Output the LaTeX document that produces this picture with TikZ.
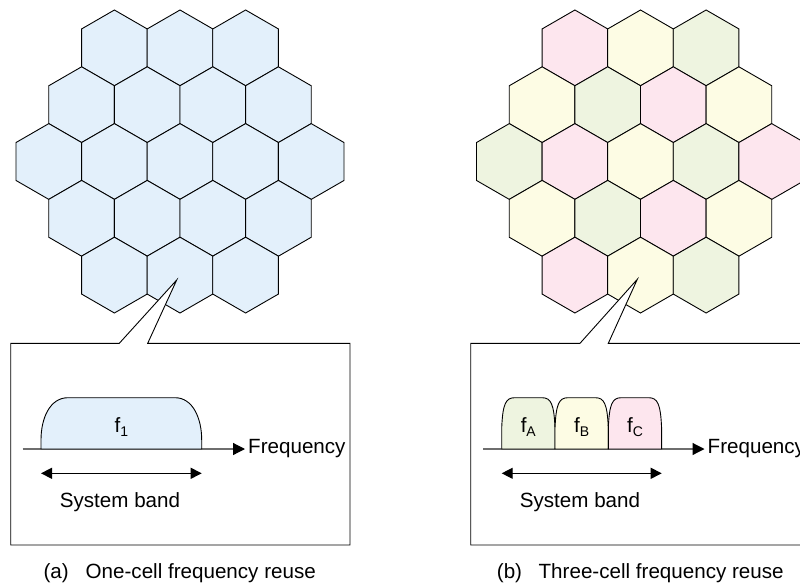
\documentclass[tikz,border=0pt]{standalone}
\usepackage{fontspec}
\setmainfont{Liberation Sans}
\usepackage{xcolor}
\definecolor{cellblue}{HTML}{E3F0FB}
\definecolor{cellpink}{HTML}{FDE6EE}
\definecolor{cellyellow}{HTML}{FDFCE4}
\definecolor{cellgreen}{HTML}{EEF4E0}
\definecolor{axisgray}{HTML}{6E6E6E}
\usepackage{tikz}
\usetikzlibrary{shapes.geometric,arrows.meta,positioning,calc}
\tikzstyle{cell} = [regular polygon, regular polygon sides=6, shape border rotate=30,
draw, minimum size=75.8pt, inner sep=0pt, outer sep=0pt, line width=0.9pt]
\tikzstyle{callout} = [draw, fill=white, line width=0.9pt]
\tikzstyle{band} = [draw, line width=0.9pt]
\tikzstyle{freqaxis} = [draw=axisgray, line width=1.2pt, -{Triangle[length=12pt,width=12pt,color=black]}]
\tikzstyle{bandspan} = [draw, line width=1.2pt, {Triangle[length=11pt,width=11pt]}-{Triangle[length=11pt,width=11pt]}]
\tikzstyle{txt} = [inner sep=0pt, font=\fontsize{20.6}{24}\selectfont]
\newcommand{\lowsub}[1]{\raisebox{-4pt}{\fontsize{14}{14}\selectfont #1}}

\begin{document}
\begin{tikzpicture}[x=1pt, y=-1pt]
    \useasboundingbox (0,0) rectangle (800,586);

    % One-cell reuse: all cells the same band
    \foreach \r in {-2,...,2} {
        \pgfmathtruncatemacro\n{5-abs(\r)}
        \foreach \i in {1,...,\n} {
            \node [cell, fill=cellblue] (hexa\r\i) at ({180+(\i-(\n+1)/2)*65.6}, {161.5+\r*56.8}) {};
        }
    }

    % Three-cell reuse: colour per cell
    \foreach \r/\cols in {-2/{cellpink,cellyellow,cellgreen},
                          -1/{cellyellow,cellgreen,cellpink,cellyellow},
                          0/{cellgreen,cellpink,cellyellow,cellgreen,cellpink},
                          1/{cellyellow,cellgreen,cellpink,cellyellow},
                          2/{cellpink,cellyellow,cellgreen}} {
        \pgfmathtruncatemacro\n{5-abs(\r)}
        \foreach \c [count=\i] in \cols {
            \node [cell, fill=\c] (hexb\r\i) at ({640.5+(\i-(\n+1)/2)*65.6}, {161.5+\r*56.8}) {};
        }
    }

    % Callout boxes
    \coordinate (tipa) at (176.7,280);
    \coordinate (tipb) at (637.3,279.3);
    \draw [callout] (119.3,343.3) -- (10.7,343.3) -- (10.7,545) -- (350,545)
        -- (350,343.3) -- (147.7,343.3) -- (tipa) -- cycle;
    \draw [callout] (580,343.3) -- (470.7,343.3) -- (470.7,545) -- (812,545)
        -- (812,343.3) -- (608.3,343.3) -- (tipb) -- cycle;

    % Frequency axes
    \coordinate (axa-start) at (22.7,449);
    \coordinate (axa-end) at (245,449);
    \coordinate (axb-start) at (483.3,449);
    \coordinate (axb-end) at (704.5,449);
    \draw [freqaxis] (axa-start) -- (axa-end);
    \draw [freqaxis] (axb-start) -- (axb-end);
    \node [txt, right=3pt of axa-end] (freqa) {Frequency};
    \node [txt, right=3pt of axb-end] (freqb) {Frequency};

    % Bands
    \draw [band, fill=cellblue] (41,449) -- (41,440) .. controls (41,418) and (50,397.7) .. (68,397.7)
        -- (175,397.7) .. controls (192.7,397.7) and (201.7,418) .. (201.7,440) -- (201.7,449) -- cycle;
    \foreach \x/\c in {501.7/cellgreen, 555/cellyellow, 608.3/cellpink} {
        \draw [band, fill=\c] (\x,449) -- (\x,428) .. controls (\x+1,404) and (\x+4,397.7) .. (\x+13,397.7)
            -- (\x+40.3,397.7) .. controls (\x+49.3,397.7) and (\x+52.3,404) .. (\x+53.3,428) -- (\x+53.3,449) -- cycle;
    }
    \node [txt, anchor=base] (fone) at (121.3,432.7) {f\lowsub{1}};
    \node [txt, anchor=base] (fa) at (528.3,432.7) {f\lowsub{A}};
    \node [txt, anchor=base] (fb) at (581.6,432.7) {f\lowsub{B}};
    \node [txt, anchor=base] (fc) at (635,432.7) {f\lowsub{C}};

    % System band
    \coordinate (sba-l) at (41,473.3);
    \coordinate (sba-r) at (201.7,473.3);
    \coordinate (sbb-l) at (501.7,473.3);
    \coordinate (sbb-r) at (661.7,473.3);
    \draw [bandspan] (sba-l) -- (sba-r);
    \draw [bandspan] (sbb-l) -- (sbb-r);
    \node [txt, anchor=base] (sysa) at (120,507.7) {System band};
    \node [txt, anchor=base] (sysb) at (580,507.7) {System band};

    % Captions
    \node [txt, anchor=base west] (capa) at (43.3,578.3) {(a)\hspace{17pt}One-cell frequency reuse};
    \node [txt, anchor=base west] (capb) at (496.7,578.3) {(b)\hspace{16.6pt}Three-cell frequency reuse};

\end{tikzpicture}
\end{document}
